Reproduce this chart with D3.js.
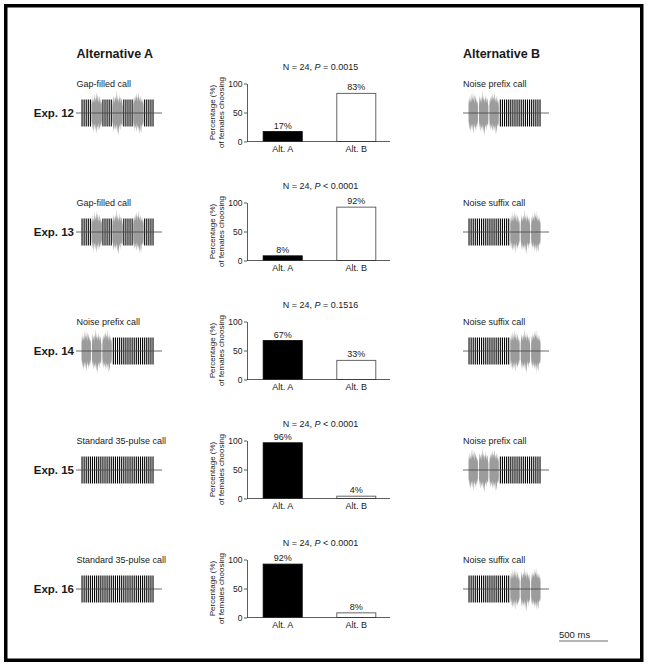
<!DOCTYPE html>
<html>
<head>
<meta charset="utf-8">
<script src="https://cdn.jsdelivr.net/npm/d3@7"></script>
<style>
  body { margin: 0; background: #fff; }
  svg text { font-family: "Liberation Sans", Arial, sans-serif; fill: #1a1a1a; }
</style>
</head>
<body>
<div id="chart"></div>
<script>
// data
var experiments = ["Exp. 12", "Exp. 13", "Exp. 14", "Exp. 15", "Exp. 16"];
var altACalls = ["Gap-filled call", "Gap-filled call", "Noise prefix call", "Standard 35-pulse call", "Standard 35-pulse call"];
var altBCalls = ["Noise prefix call", "Noise suffix call", "Noise suffix call", "Noise prefix call", "Noise suffix call"];
var pctA = [17, 8, 67, 96, 92];
var pctB = [83, 92, 33, 4, 8];
var nFemales = [24, 24, 24, 24, 24];
var pSigns = ["=", "<", "=", "<", "<"];
var pValues = ["0.0015", "0.0001", "0.1516", "0.0001", "0.0001"];
var barCats = ["Alt. A", "Alt. B"];
var yTicks = [0, 50, 100];

// call structure: [type, number of pulse periods]
var gapFilledSegs = [["p", 5], ["n", 5], ["p", 5], ["n", 5], ["p", 5], ["n", 5], ["p", 5]];
var noisePrefixSegs = [["n", 5], ["n", 5], ["n", 5], ["p", 20]];
var noiseSuffixSegs = [["p", 20], ["n", 5], ["n", 5], ["n", 5]];
var standardSegs = [["p", 35]];
var pulsePeriodMs = 21.3;
var scaleBarMs = 500;

// hand read noise envelopes (relative to pulse amplitude)
var noiseTopA = [0.6,1.1,0.7,1.3,0.8,1.0,1.5,0.75,1.2,0.9,1.6,0.85,1.15,1.4,0.7,1.05,1.3,0.8,1.1,0.65,0.9,0.55];
var noiseBotA = [0.55,0.9,1.25,0.7,1.1,1.45,0.8,1.0,1.3,0.75,1.2,1.55,0.9,1.1,0.7,1.35,0.95,1.2,0.75,1.05,0.8,0.6];
var noiseTopB = [0.5,1.0,1.3,0.8,1.15,0.7,1.25,1.0,1.7,0.85,1.3,0.95,1.1,0.7,1.4,0.9,1.2,0.75,1.0,1.1,0.7,0.5];
var noiseBotB = [0.6,0.85,1.1,1.4,0.75,1.2,0.95,1.3,0.8,1.15,1.5,0.9,1.25,1.7,0.85,1.1,0.7,1.3,0.9,0.8,1.0,0.55];
var noiseTopC = [0.55,0.95,1.2,0.75,1.35,0.9,1.1,1.5,0.8,1.25,1.05,1.6,0.9,1.15,0.75,1.3,1.0,0.8,1.15,0.7,0.9,0.5];
var noiseBotC = [0.5,1.05,0.8,1.3,0.95,1.15,0.7,1.4,1.1,0.85,1.3,0.95,1.2,1.6,0.8,1.25,1.5,0.9,1.0,0.75,0.95,0.55];

var width = 649, height = 667;
var svg = d3.select("#chart").append("svg").attr("width", width).attr("height", height);

// frame
svg.append("rect").attr("x", 5.75).attr("y", 5.75).attr("width", 636).attr("height", 654.5)
   .attr("fill", "none").attr("stroke", "#000").attr("stroke-width", 3.5);

var segsFor = function (name) {
  if (name == "Gap-filled call") return gapFilledSegs;
  if (name == "Noise prefix call") return noisePrefixSegs;
  if (name == "Noise suffix call") return noiseSuffixSegs;
  return standardSegs;
};
var noiseTops = [noiseTopA, noiseTopB, noiseTopC];
var noiseBots = [noiseBotA, noiseBotB, noiseBotC];

var rowY = d3.scalePoint().domain(experiments).range([113, 589]);
var ms = d3.scaleLinear().domain([0, scaleBarMs]).range([0, 49]);
var pulseAmp = 13.5;

// headers
svg.append("text").attr("x", 76.5).attr("y", 58).text("Alternative A")
   .style("font-size", "12.5px").style("font-weight", "bold");
svg.append("text").attr("x", 463).attr("y", 58).text("Alternative B")
   .style("font-size", "12.5px").style("font-weight", "bold");

function drawCall(parent, segs, x0, mid) {
  // x0 = start of midline
  var g = parent.append("g");
  var start = x0 + 5;
  var t = 0, noiseIdx = 0;
  var pulses = [], bursts = [];
  segs.forEach(function (s) {
    if (s[0] == "p") {
      for (var i = 0; i < s[1]; i++) pulses.push(t + (i + 0.5) * pulsePeriodMs);
    } else {
      bursts.push({ t0: t, t1: t + s[1] * pulsePeriodMs, k: noiseIdx % 3 });
      noiseIdx++;
    }
    t += s[1] * pulsePeriodMs;
  });
  var gapPx = segs.length > 4 ? 0 : 0.5;
  bursts.forEach(function (b) {
    var top = noiseTops[b.k], bot = noiseBots[b.k];
    var xs = d3.scaleLinear().domain([0, top.length - 1])
      .range([start + ms(b.t0) + gapPx, start + ms(b.t1) - gapPx]);
    var area = d3.area()
      .x(function (d, i) { return xs(i); })
      .y0(function (d, i) { return mid + bot[i] * pulseAmp; })
      .y1(function (d) { return mid - d * pulseAmp; });
    g.append("path").attr("d", area(top)).attr("fill", "#9c9c9c");
  });
  g.selectAll("line.pulse").data(pulses).enter().append("line").attr("class", "pulse")
    .attr("x1", function (d) { return start + ms(d); })
    .attr("x2", function (d) { return start + ms(d); })
    .attr("y1", mid - pulseAmp).attr("y2", mid + pulseAmp)
    .attr("stroke", "#000").attr("stroke-width", 1.1);
  g.append("line").attr("x1", x0).attr("x2", x0 + 86).attr("y1", mid).attr("y2", mid)
    .attr("stroke", "#444").attr("stroke-width", 0.8);
}

var plotLeft = 247, plotRight = 390;
var xBand = d3.scaleBand().domain(barCats).range([plotLeft, 392]).paddingInner(0.47).paddingOuter(0.22);

experiments.forEach(function (exp, r) {
  var mid = rowY(exp);
  var g = svg.append("g");

  // left column
  g.append("text").attr("x", 74).attr("y", mid + 4).attr("text-anchor", "end").text(exp)
    .style("font-size", "11.5px").style("font-weight", "bold");
  g.append("text").attr("x", 76.5).attr("y", mid - 26).text(altACalls[r]).style("font-size", "9px");
  drawCall(g, segsFor(altACalls[r]), 76, mid);

  // right column
  g.append("text").attr("x", 463).attr("y", mid - 26).text(altBCalls[r]).style("font-size", "9px");
  drawCall(g, segsFor(altBCalls[r]), 463, mid);

  // bar chart
  var y = d3.scaleLinear().domain([0, 100]).range([mid + 28.5, mid - 29.5]);
  var vals = [pctA[r], pctB[r]];
  g.selectAll("rect.bar").data(vals).enter().append("rect").attr("class", "bar")
    .attr("x", function (d, i) { return xBand(barCats[i]); })
    .attr("width", xBand.bandwidth())
    .attr("y", function (d) { return y(d); })
    .attr("height", function (d) { return y(0) - y(d); })
    .attr("fill", function (d, i) { return i == 0 ? "#000" : "#fff"; })
    .attr("stroke", function (d, i) { return i == 0 ? "#000" : "#555"; })
    .attr("stroke-width", 0.9);
  g.selectAll("text.pct").data(vals).enter().append("text").attr("class", "pct")
    .attr("x", function (d, i) { return xBand(barCats[i]) + xBand.bandwidth() / 2; })
    .attr("y", function (d) { return y(d) - 3; })
    .attr("text-anchor", "middle").style("font-size", "9px")
    .text(function (d) { return d + "%"; });
  g.selectAll("text.cat").data(barCats).enter().append("text").attr("class", "cat")
    .attr("x", function (d) { return xBand(d) + xBand.bandwidth() / 2; })
    .attr("y", y(0) + 10.5)
    .attr("text-anchor", "middle").style("font-size", "9px")
    .text(function (d) { return d; });

  var ax = g.append("g").attr("transform", "translate(" + plotLeft + ",0)")
    .call(d3.axisLeft(y).tickValues(yTicks).tickSize(3).tickSizeOuter(0).tickPadding(1.5));
  ax.select(".domain").attr("stroke", "#333").attr("stroke-width", 0.8);
  ax.selectAll(".tick line").attr("stroke", "#333").attr("stroke-width", 0.8);
  ax.selectAll(".tick text").style("font-size", "8.5px").attr("fill", "#1a1a1a")
    .style("font-family", "'Liberation Sans', Arial, sans-serif");
  g.append("line").attr("x1", plotLeft).attr("x2", plotRight).attr("y1", y(0)).attr("y2", y(0))
    .attr("stroke", "#333").attr("stroke-width", 0.8);

  // y label
  g.append("text").attr("transform", "translate(215," + (mid - 0.5) + ") rotate(-90)")
    .attr("text-anchor", "middle").style("font-size", "8px").text("Percentage (%)");
  g.append("text").attr("transform", "translate(223.5," + (mid - 0.5) + ") rotate(-90)")
    .attr("text-anchor", "middle").style("font-size", "8px").text("of females choosing");

  // title
  var tt = g.append("text").attr("x", (plotLeft + plotRight) / 2 + 2).attr("y", mid - 43.5)
    .attr("text-anchor", "middle").style("font-size", "9px");
  tt.append("tspan").text("N = " + nFemales[r] + ", ");
  tt.append("tspan").style("font-style", "italic").text("P");
  tt.append("tspan").text(" " + pSigns[r] + " " + pValues[r]);
});

// scale bar
svg.append("line").attr("x1", 559).attr("x2", 559 + ms(scaleBarMs)).attr("y1", 641).attr("y2", 641)
   .attr("stroke", "#444").attr("stroke-width", 0.8);
svg.append("text").attr("x", 559).attr("y", 637.5).text(scaleBarMs + " ms").style("font-size", "9.5px");
</script>
</body>
</html>
